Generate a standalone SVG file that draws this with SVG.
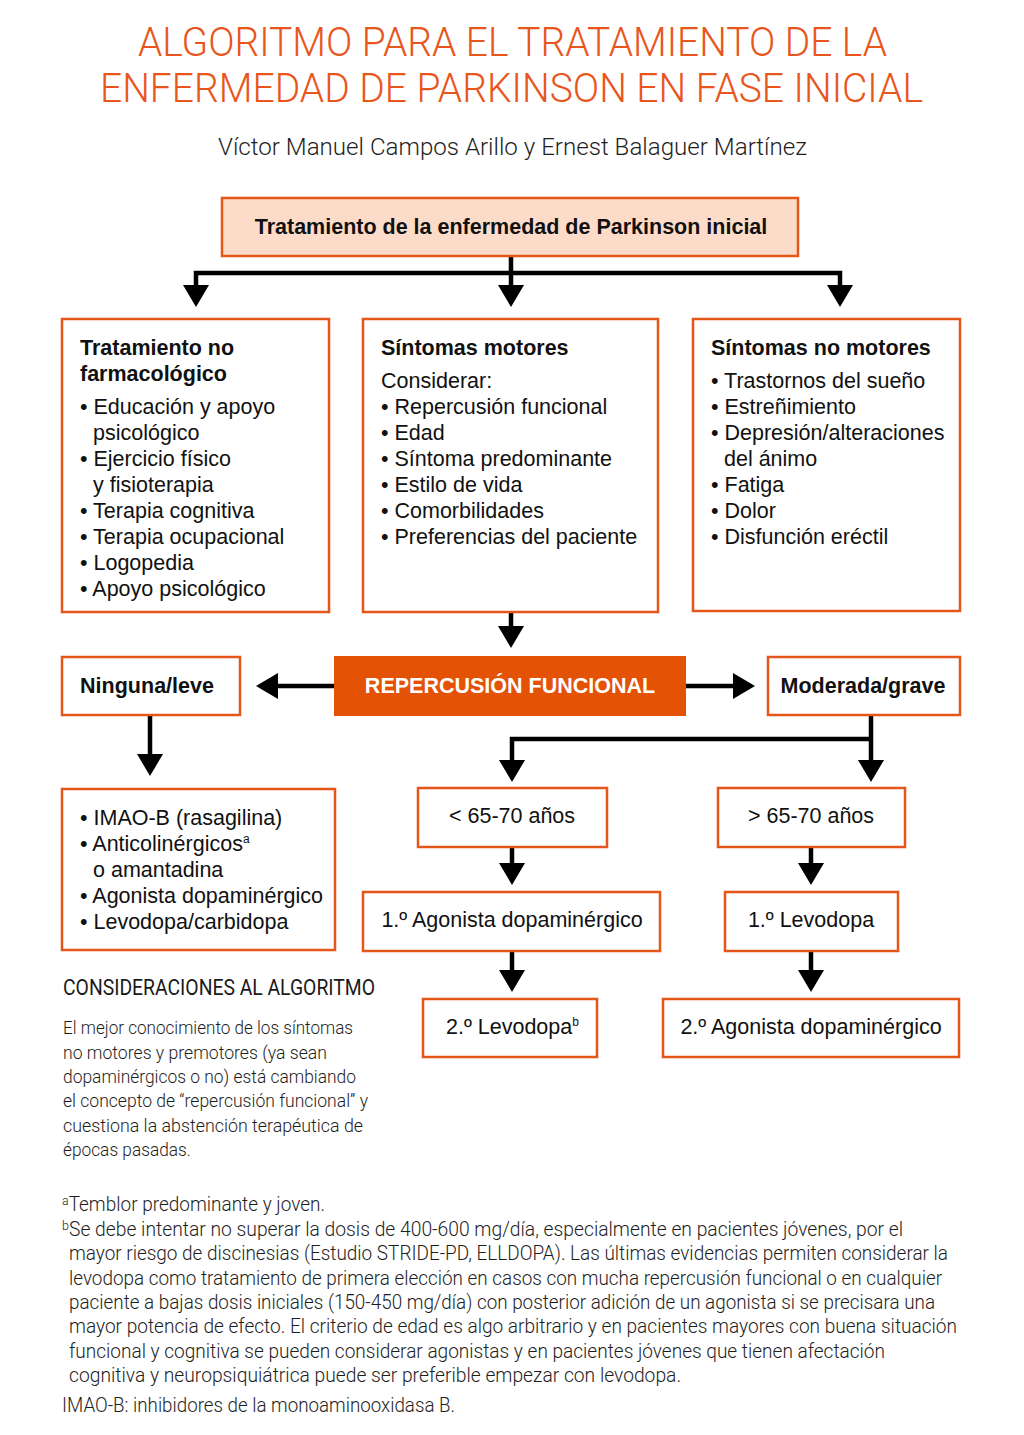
<svg xmlns="http://www.w3.org/2000/svg" width="1024" height="1435" viewBox="0 0 1024 1435">
<style>
.box{fill:#fff;stroke:#E5561A;stroke-width:2.5}
.t{font-family:"Liberation Sans",Arial,sans-serif;font-size:21.5px;fill:#111}
.b{font-weight:bold}
.c{text-anchor:middle}
.lt{font-family:Roboto,"Liberation Sans",sans-serif;font-weight:300;fill:#1e1e1e}
.conn{fill:none;stroke:#000;stroke-width:4.5}
</style>
<defs>
<marker id="ah" markerUnits="userSpaceOnUse" markerWidth="22" markerHeight="26" viewBox="0 0 22 26" refX="6" refY="13" orient="auto-start-reverse">
<path d="M0,0 L22,13 L0,26 z" fill="#000"/>
</marker>
</defs>
<rect width="1024" height="1435" fill="#fff"/>

<g id="title">
<text x="138" y="56" textLength="749" lengthAdjust="spacingAndGlyphs" style="font-family:Roboto,'Liberation Sans',sans-serif;font-weight:300;font-size:40px;fill:#E8561C">ALGORITMO PARA EL TRATAMIENTO DE LA</text>
<text x="100" y="102" textLength="823" lengthAdjust="spacingAndGlyphs" style="font-family:Roboto,'Liberation Sans',sans-serif;font-weight:300;font-size:40px;fill:#E8561C">ENFERMEDAD DE PARKINSON EN FASE INICIAL</text>
<text x="218" y="155" textLength="589" lengthAdjust="spacingAndGlyphs" class="lt" style="font-size:24px">Víctor Manuel Campos Arillo y Ernest Balaguer Martínez</text>
</g>

<g id="connectors">
<path class="conn" d="M511,256 V291" marker-end="url(#ah)"/>
<path class="conn" d="M196,291 V273 H840 V291" marker-start="url(#ah)" marker-end="url(#ah)"/>
<path class="conn" d="M511,612 V632" marker-end="url(#ah)"/>
<path class="conn" d="M334,686 H272" marker-end="url(#ah)"/>
<path class="conn" d="M686,686 H739" marker-end="url(#ah)"/>
<path class="conn" d="M150,715 V760" marker-end="url(#ah)"/>
<path class="conn" d="M871,715 V766" marker-end="url(#ah)"/>
<path class="conn" d="M871,739 H512 V766" marker-end="url(#ah)"/>
<path class="conn" d="M512,847 V869" marker-end="url(#ah)"/>
<path class="conn" d="M811,847 V869" marker-end="url(#ah)"/>
<path class="conn" d="M512,951 V976" marker-end="url(#ah)"/>
<path class="conn" d="M811,951 V976" marker-end="url(#ah)"/>
</g>

<g id="n-root">
<rect x="222" y="198" width="576" height="58" style="fill:#FCDCC9;stroke:#E5561A;stroke-width:2.5"/>
<text class="t b c" x="511" y="234">Tratamiento de la enfermedad de Parkinson inicial</text>
</g>

<g id="n-nofarm">
<rect class="box" x="62" y="319" width="267" height="293"/>
<text class="t b" x="80" y="355">Tratamiento no</text>
<text class="t b" x="80" y="381">farmacológico</text>
<text class="t" x="80" y="414">• Educación y apoyo</text>
<text class="t" x="93" y="440">psicológico</text>
<text class="t" x="80" y="466">• Ejercicio físico</text>
<text class="t" x="93" y="492">y fisioterapia</text>
<text class="t" x="80" y="518">• Terapia cognitiva</text>
<text class="t" x="80" y="544">• Terapia ocupacional</text>
<text class="t" x="80" y="570">• Logopedia</text>
<text class="t" x="80" y="596">• Apoyo psicológico</text>
</g>

<g id="n-motores">
<rect class="box" x="363" y="319" width="295" height="293"/>
<text class="t b" x="381" y="355">Síntomas motores</text>
<text class="t" x="381" y="388">Considerar:</text>
<text class="t" x="381" y="414">• Repercusión funcional</text>
<text class="t" x="381" y="440">• Edad</text>
<text class="t" x="381" y="466">• Síntoma predominante</text>
<text class="t" x="381" y="492">• Estilo de vida</text>
<text class="t" x="381" y="518">• Comorbilidades</text>
<text class="t" x="381" y="544">• Preferencias del paciente</text>
</g>

<g id="n-nomotores">
<rect class="box" x="693" y="319" width="267" height="292"/>
<text class="t b" x="711" y="355">Síntomas no motores</text>
<text class="t" x="711" y="388">• Trastornos del sueño</text>
<text class="t" x="711" y="414">• Estreñimiento</text>
<text class="t" x="711" y="440">• Depresión/alteraciones</text>
<text class="t" x="724" y="466">del ánimo</text>
<text class="t" x="711" y="492">• Fatiga</text>
<text class="t" x="711" y="518">• Dolor</text>
<text class="t" x="711" y="544">• Disfunción eréctil</text>
</g>

<g id="n-repercusion">
<rect x="334" y="656" width="352" height="60" fill="#E35205"/>
<text class="t b c" x="510" y="693" style="fill:#fff">REPERCUSIÓN FUNCIONAL</text>
</g>

<g id="n-ninguna">
<rect class="box" x="62" y="657" width="178" height="58"/>
<text class="t b c" x="147" y="693">Ninguna/leve</text>
</g>

<g id="n-moderada">
<rect class="box" x="768" y="657" width="192" height="58"/>
<text class="t b c" x="863" y="693">Moderada/grave</text>
</g>

<g id="n-opciones">
<rect class="box" x="62" y="789" width="273" height="161"/>
<text class="t" x="80" y="825">• IMAO-B (rasagilina)</text>
<text class="t" x="80" y="851">• Anticolinérgicos<tspan font-size="12" dy="-8">a</tspan></text>
<text class="t" x="93" y="877">o amantadina</text>
<text class="t" x="80" y="903">• Agonista dopaminérgico</text>
<text class="t" x="80" y="929">• Levodopa/carbidopa</text>
</g>

<g id="n-menor65">
<rect class="box" x="418" y="788" width="189" height="59"/>
<text class="t c" x="512" y="823">&lt; 65-70 años</text>
</g>

<g id="n-mayor65">
<rect class="box" x="718" y="788" width="187" height="59"/>
<text class="t c" x="811" y="823">&gt; 65-70 años</text>
</g>

<g id="n-agonista1">
<rect class="box" x="363" y="892" width="297" height="59"/>
<text class="t c" x="512" y="927">1.º Agonista dopaminérgico</text>
</g>

<g id="n-levodopa1">
<rect class="box" x="725" y="892" width="173" height="59"/>
<text class="t c" x="811" y="927">1.º Levodopa</text>
</g>

<g id="n-levodopa2">
<rect class="box" x="423" y="999" width="174" height="58"/>
<text class="t" x="446" y="1034">2.º Levodopa<tspan font-size="12" dy="-8">b</tspan></text>
</g>

<g id="n-agonista2">
<rect class="box" x="663" y="999" width="296" height="58"/>
<text class="t c" x="811" y="1034">2.º Agonista dopaminérgico</text>
</g>

<g id="consideraciones">
<text x="63" y="995" textLength="312" lengthAdjust="spacingAndGlyphs" style="font-family:Roboto,'Liberation Sans',sans-serif;font-weight:400;font-size:22px;fill:#1a1a1a">CONSIDERACIONES AL ALGORITMO</text>
<text class="lt" x="63" y="1034" font-size="19" textLength="290" lengthAdjust="spacingAndGlyphs">El mejor conocimiento de los síntomas</text>
<text class="lt" x="63" y="1058.5" font-size="19" textLength="264" lengthAdjust="spacingAndGlyphs">no motores y premotores (ya sean</text>
<text class="lt" x="63" y="1083" font-size="19" textLength="293" lengthAdjust="spacingAndGlyphs">dopaminérgicos o no) está cambiando</text>
<text class="lt" x="63" y="1107" font-size="19" textLength="305" lengthAdjust="spacingAndGlyphs">el concepto de “repercusión funcional” y</text>
<text class="lt" x="63" y="1131.5" font-size="19" textLength="300" lengthAdjust="spacingAndGlyphs">cuestiona la abstención terapéutica de</text>
<text class="lt" x="63" y="1156" font-size="19" textLength="128" lengthAdjust="spacingAndGlyphs">épocas pasadas.</text>
</g>

<g id="footnotes">
<text class="lt" x="62" y="1211" font-size="20" textLength="263" lengthAdjust="spacingAndGlyphs"><tspan font-size="13" dy="-6">a</tspan><tspan dy="6">Temblor predominante y joven.</tspan></text>
<text class="lt" x="62" y="1236" font-size="20" textLength="841" lengthAdjust="spacingAndGlyphs"><tspan font-size="13" dy="-6">b</tspan><tspan dy="6">Se debe intentar no superar la dosis de 400-600 mg/día, especialmente en pacientes jóvenes, por el</tspan></text>
<text class="lt" x="69" y="1260" font-size="20" textLength="879" lengthAdjust="spacingAndGlyphs">mayor riesgo de discinesias (Estudio STRIDE-PD, ELLDOPA). Las últimas evidencias permiten considerar la</text>
<text class="lt" x="69" y="1284.5" font-size="20" textLength="873" lengthAdjust="spacingAndGlyphs">levodopa como tratamiento de primera elección en casos con mucha repercusión funcional o en cualquier</text>
<text class="lt" x="69" y="1309" font-size="20" textLength="866" lengthAdjust="spacingAndGlyphs">paciente a bajas dosis iniciales (150-450 mg/día) con posterior adición de un agonista si se precisara una</text>
<text class="lt" x="69" y="1333" font-size="20" textLength="888" lengthAdjust="spacingAndGlyphs">mayor potencia de efecto. El criterio de edad es algo arbitrario y en pacientes mayores con buena situación</text>
<text class="lt" x="69" y="1357.5" font-size="20" textLength="816" lengthAdjust="spacingAndGlyphs">funcional y cognitiva se pueden considerar agonistas y en pacientes jóvenes que tienen afectación</text>
<text class="lt" x="69" y="1382" font-size="20" textLength="612" lengthAdjust="spacingAndGlyphs">cognitiva y neuropsiquiátrica puede ser preferible empezar con levodopa.</text>
<text class="lt" x="62" y="1412" font-size="20" textLength="393" lengthAdjust="spacingAndGlyphs">IMAO-B: inhibidores de la monoaminooxidasa B.</text>
</g>
</svg>
